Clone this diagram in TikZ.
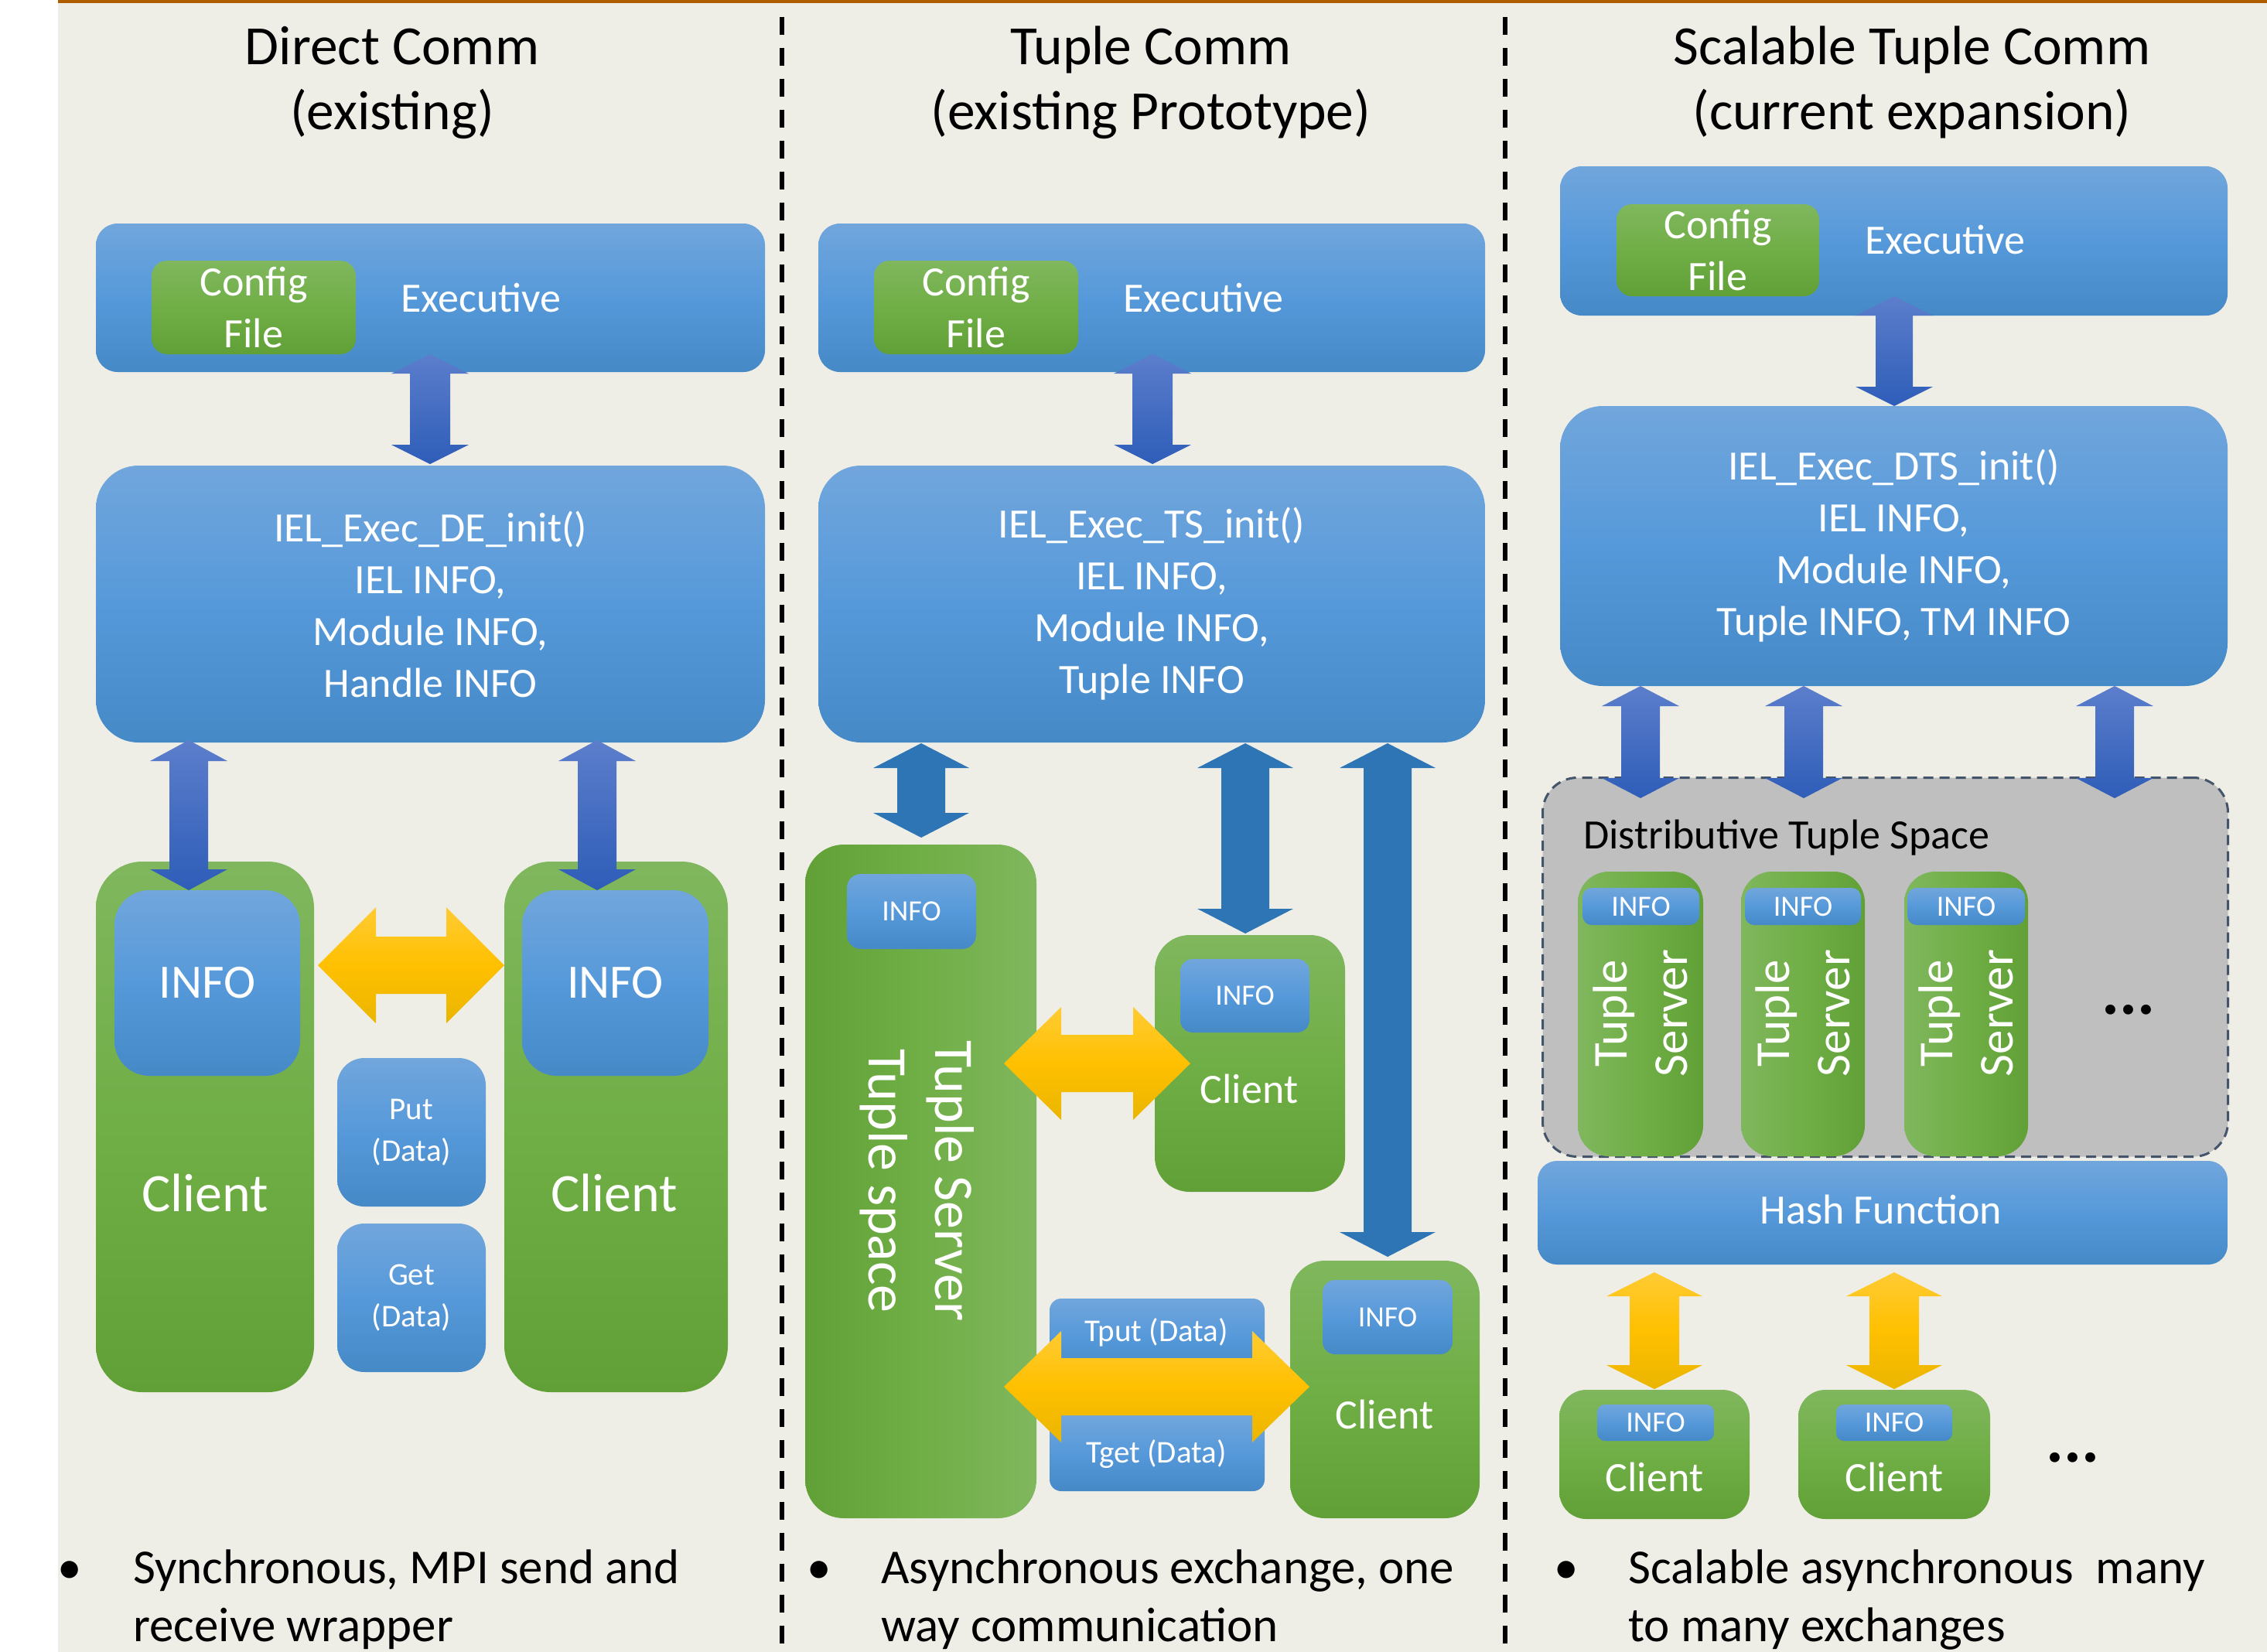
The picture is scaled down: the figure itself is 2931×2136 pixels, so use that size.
\documentclass[tikz,border=0pt]{standalone}
\usepackage{fontspec}
\setmainfont{Carlito}
\definecolor{bg}{RGB}{239,238,230}
\definecolor{topline}{RGB}{174,92,0}
\definecolor{blueT}{RGB}{113,166,220}
\definecolor{blueM}{RGB}{86,153,218}
\definecolor{blueB}{RGB}{70,137,199}
\definecolor{greenT}{RGB}{128,183,94}
\definecolor{greenM}{RGB}{112,174,70}
\definecolor{greenB}{RGB}{97,160,55}
\definecolor{arrT}{RGB}{92,126,204}
\definecolor{arrB}{RGB}{46,93,184}
\definecolor{darkarr}{RGB}{46,117,182}
\definecolor{yelT}{RGB}{255,203,52}
\definecolor{yelM}{RGB}{255,192,0}
\definecolor{yelB}{RGB}{234,181,0}
\definecolor{dtsfill}{RGB}{191,191,191}
\definecolor{dtsline}{RGB}{68,84,106}
\newcommand\myfs[2]{\fontsize{#1pt}{#2pt}\selectfont}
% vertical double block arrow: style, x, ytop, ybot, half shaft, half head, head length
\newcommand\VArrow[7]{\path[#1] (#2,#3) -- (#2+#6,#3+#7) -- (#2+#5,#3+#7) -- (#2+#5,#4-#7) -- (#2+#6,#4-#7) -- (#2,#4) -- (#2-#6,#4-#7) -- (#2-#5,#4-#7) -- (#2-#5,#3+#7) -- (#2-#6,#3+#7) -- cycle;}
% horizontal double block arrow: style, y, xleft, xright, half shaft, half head, head length
\newcommand\HArrow[7]{\path[#1] (#3,#2) -- (#3+#7,#2-#6) -- (#3+#7,#2-#5) -- (#4-#7,#2-#5) -- (#4-#7,#2-#6) -- (#4,#2) -- (#4-#7,#2+#6) -- (#4-#7,#2+#5) -- (#3+#7,#2+#5) -- (#3+#7,#2+#6) -- cycle;}
\tikzset{
  boxbase/.style={rectangle, inner sep=0pt, outer sep=0pt, anchor=north west, text=white, align=center},
  bluebox/.style={boxbase, top color=blueT, bottom color=blueB, middle color=blueM},
  greenbox/.style={boxbase, top color=greenT, bottom color=greenB, middle color=greenM},
  greenLR/.style={boxbase, left color=greenB, right color=greenT, middle color=greenM},
  greenRL/.style={boxbase, left color=greenT, right color=greenB, middle color=greenM},
  titletext/.style={anchor=base, inner sep=0pt, font=\myfs{71.5}{84}, text=black},
  bodytext/.style={inner sep=0pt, font=\myfs{54}{67}, text=white},
  bullettext/.style={anchor=base west, inner sep=0pt, font=\myfs{63}{75}, text=black},
  bulletdot/.style={anchor=base, inner sep=0pt, font=\myfs{63}{75}, text=black},
  smallinfo/.style={font=\myfs{38}{46}},
  arrblue/.style={top color=arrT, bottom color=arrB},
  arrdark/.style={fill=darkarr},
  arryel/.style={top color=yelT, bottom color=yelB, middle color=yelM},
  divider/.style={line width=5.5pt, dash pattern=on 23pt off 17pt, black},
  dotstext/.style={inner sep=0pt, font=\myfs{86}{86}\bfseries, text=black}
}
\begin{document}
\begin{tikzpicture}[x=1pt,y=-1pt]
\useasboundingbox (0,0) rectangle (2931,2136);
\fill[white] (0,0) rectangle (2931,2136);
\fill[bg] (75,0) rectangle (2931,2136);
\fill[topline] (75,0) rectangle (2931,4);
% dividers
\coordinate (d1t) at (1011,22); \coordinate (d1b) at (1011,2136);
\coordinate (d2t) at (1946,22); \coordinate (d2b) at (1946,2136);
\draw[divider] (d1t) -- (d1b);
\draw[divider] (d2t) -- (d2b);
% titles
\node[titletext] (t1a) at (507,83) {Direct Comm};
\node[titletext] (t1b) at (507,167) {(existing)};
\node[titletext] (t2a) at (1488,83) {Tuple Comm};
\node[titletext] (t2b) at (1488,167) {(existing Prototype)};
\node[titletext] (t3a) at (2472,83) {Scalable Tuple Comm};
\node[titletext] (t3b) at (2472,167) {(current expansion)};

% ================= Column 1 =================
\node[bluebox, minimum width=865pt, minimum height=192pt, rounded corners=28pt] (exec1) at (124,289) {};
\node[greenbox, minimum width=264pt, minimum height=121pt, rounded corners=20pt, font=\myfs{54}{67}] (cfg1) at (196,337) {Config\\File};
\node[bodytext, anchor=base west] (ex1) at (518,403) {Executive};
\node[bluebox, minimum width=865pt, minimum height=358pt, rounded corners=55pt, font=\myfs{54}{67}] (iel1) at (124,602) {IEL\_Exec\_DE\_init()\\IEL INFO,\\Module INFO,\\Handle INFO};
\VArrow{arrblue}{556}{458}{600}{26}{50}{25}
\node[greenbox, minimum width=282pt, minimum height=686pt, rounded corners=60pt] (cl1L) at (124,1114) {};
\node[bluebox, minimum width=240pt, minimum height=240pt, rounded corners=45pt, font=\myfs{62}{70}] (in1L) at (148,1151) {INFO};
\node[bodytext, anchor=base, font=\myfs{70}{80}] (ct1L) at (265,1566) {Client};
\node[greenbox, minimum width=289pt, minimum height=686pt, rounded corners=60pt] (cl1R) at (652,1114) {};
\node[bluebox, minimum width=241pt, minimum height=240pt, rounded corners=45pt, font=\myfs{62}{70}] (in1R) at (675,1151) {INFO};
\node[bodytext, anchor=base, font=\myfs{70}{80}] (ct1R) at (794,1566) {Client};
\node[bluebox, minimum width=192pt, minimum height=192pt, rounded corners=35pt, font=\myfs{41}{54}] (put1) at (436,1368) {Put\\(Data)};
\node[bluebox, minimum width=192pt, minimum height=192pt, rounded corners=35pt, font=\myfs{41}{54}] (get1) at (436,1582) {Get\\(Data)};
\VArrow{arrblue}{244}{957}{1151}{25}{50}{27}
\VArrow{arrblue}{772}{957}{1151}{25}{50}{27}
\HArrow{arryel}{1248}{411}{652}{37}{75}{75}
\node[bulletdot] (bd1) at (90,2047) {•};
\node[bullettext] (bt1a) at (172,2047) {Synchronous, MPI send and};
\node[bullettext] (bt1b) at (172,2122) {receive wrapper};

% ================= Column 2 =================
\node[bluebox, minimum width=862pt, minimum height=192pt, rounded corners=28pt] (exec2) at (1058,289) {};
\node[greenbox, minimum width=264pt, minimum height=121pt, rounded corners=20pt, font=\myfs{54}{67}] (cfg2) at (1130,337) {Config\\File};
\node[bodytext, anchor=base west] (ex2) at (1452,403) {Executive};
\node[bluebox, minimum width=862pt, minimum height=358pt, rounded corners=55pt, font=\myfs{54}{67}] (iel2) at (1058,602) {IEL\_Exec\_TS\_init()\\IEL INFO,\\Module INFO,\\Tuple INFO};
\VArrow{arrblue}{1490}{458}{600}{26}{50}{25}
\node[greenLR, minimum width=299pt, minimum height=871pt, rounded corners=50pt] (ts2) at (1041,1092) {};
\node[bluebox, minimum width=167pt, minimum height=97pt, rounded corners=18pt, smallinfo] (tsi2) at (1095,1130) {INFO};
\node[inner sep=0pt, rotate=-90, align=center, text=white, font=\myfs{72}{86}] (tst2) at (1186,1527) {Tuple Server\\Tuple space};
\node[greenbox, minimum width=246pt, minimum height=332pt, rounded corners=45pt] (clA) at (1493,1209) {};
\node[bluebox, minimum width=167pt, minimum height=95pt, rounded corners=16pt, smallinfo] (inA) at (1526,1240) {INFO};
\node[bodytext, anchor=base] (ctA) at (1615,1426) {Client};
\node[greenbox, minimum width=245pt, minimum height=333pt, rounded corners=45pt] (clB) at (1668,1630) {};
\node[bluebox, minimum width=168pt, minimum height=96pt, rounded corners=16pt, smallinfo] (inB) at (1710,1655) {INFO};
\node[bodytext, anchor=base] (ctB) at (1790,1847) {Client};
\node[bluebox, minimum width=278pt, minimum height=98pt, rounded corners=15pt] (tput) at (1357,1679) {};
\node[bodytext, anchor=base, font=\myfs{41}{50}] (tputt) at (1495,1734) {Tput (Data)};
\node[bluebox, minimum width=278pt, minimum height=98pt, rounded corners=15pt] (tget) at (1357,1830) {};
\node[bodytext, anchor=base, font=\myfs{41}{50}] (tgett) at (1495,1891) {Tget (Data)};
\VArrow{arrdark}{1191}{961}{1083}{31}{62}{32}
\VArrow{arrdark}{1610}{961}{1207}{31}{62}{32}
\VArrow{arrdark}{1794}{961}{1625}{31}{62}{32}
\HArrow{arryel}{1375}{1298}{1539}{37}{73}{74}
\HArrow{arryel}{1793}{1298}{1693}{37}{72}{74}
\node[bulletdot] (bd2) at (1059,2047) {•};
\node[bullettext] (bt2a) at (1139,2047) {Asynchronous exchange, one};
\node[bullettext] (bt2b) at (1139,2122) {way communication};

% ================= Column 3 =================
\node[bluebox, minimum width=863pt, minimum height=193pt, rounded corners=28pt] (exec3) at (2017,215) {};
\node[greenbox, minimum width=262pt, minimum height=119pt, rounded corners=20pt, font=\myfs{54}{67}] (cfg3) at (2090,264) {Config\\File};
\node[bodytext, anchor=base west] (ex3) at (2411,328) {Executive};
\node[bluebox, minimum width=863pt, minimum height=362pt, rounded corners=55pt, font=\myfs{54}{67}] (iel3) at (2017,525) {IEL\_Exec\_DTS\_init()\\IEL INFO,\\Module INFO,\\Tuple INFO, TM INFO};
\VArrow{arrblue}{2449}{383}{525}{24}{50}{25}
\node[rectangle, anchor=north west, inner sep=0pt, minimum width=886pt, minimum height=490pt, rounded corners=45pt, fill=dtsfill, draw=dtsline, line width=3pt, dash pattern=on 13pt off 8pt] (dts) at (1993,1004) {};
\node[anchor=base west, inner sep=0pt, font=\myfs{54}{67}, text=black] (dtsl) at (2047,1097) {Distributive Tuple Space};
\node[greenRL, minimum width=162pt, minimum height=368pt, rounded corners=40pt] (s1) at (2040,1127) {};
\node[bluebox, minimum width=151pt, minimum height=48pt, rounded corners=12pt, smallinfo] (si1) at (2046,1148) {INFO};
\node[inner sep=0pt, rotate=90, align=center, text=white, font=\myfs{63}{78}] (st1) at (2121,1310) {Tuple\\Server};
\node[greenRL, minimum width=160pt, minimum height=368pt, rounded corners=40pt] (s2) at (2251,1127) {};
\node[bluebox, minimum width=150pt, minimum height=48pt, rounded corners=12pt, smallinfo] (si2) at (2256,1148) {INFO};
\node[inner sep=0pt, rotate=90, align=center, text=white, font=\myfs{63}{78}] (st2) at (2331,1310) {Tuple\\Server};
\node[greenRL, minimum width=160pt, minimum height=368pt, rounded corners=40pt] (s3) at (2462,1127) {};
\node[bluebox, minimum width=152pt, minimum height=48pt, rounded corners=12pt, smallinfo] (si3) at (2466,1148) {INFO};
\node[inner sep=0pt, rotate=90, align=center, text=white, font=\myfs{63}{78}] (st3) at (2542,1310) {Tuple\\Server};
\node[dotstext] (dots1) at (2752,1306) {...};
\VArrow{arrblue}{2121}{887}{1032}{25}{50}{26}
\VArrow{arrblue}{2332}{887}{1032}{25}{50}{26}
\VArrow{arrblue}{2734}{887}{1032}{25}{50}{26}
\node[bluebox, minimum width=892pt, minimum height=134pt, rounded corners=25pt] (hash) at (1988,1501) {};
\node[bodytext, anchor=base] (hasht) at (2432,1582) {Hash Function};
\node[greenbox, minimum width=246pt, minimum height=167pt, rounded corners=35pt] (c3a) at (2016,1797) {};
\node[bluebox, minimum width=151pt, minimum height=47pt, rounded corners=10pt, smallinfo] (c3ai) at (2065,1816) {INFO};
\node[bodytext, anchor=base] (c3at) at (2139,1928) {Client};
\node[greenbox, minimum width=248pt, minimum height=167pt, rounded corners=35pt] (c3b) at (2325,1797) {};
\node[bluebox, minimum width=150pt, minimum height=47pt, rounded corners=10pt, smallinfo] (c3bi) at (2374,1816) {INFO};
\node[bodytext, anchor=base] (c3bt) at (2449,1928) {Client};
\VArrow{arryel}{2139}{1645}{1796}{32}{62}{31}
\VArrow{arryel}{2449}{1645}{1796}{32}{62}{31}
\node[dotstext] (dots2) at (2680,1885) {...};
\node[bulletdot] (bd3) at (2025,2047) {•};
\node[bullettext] (bt3a) at (2105,2047) {Scalable asynchronous\ \ many};
\node[bullettext] (bt3b) at (2105,2122) {to many exchanges};
\end{tikzpicture}
\end{document}
